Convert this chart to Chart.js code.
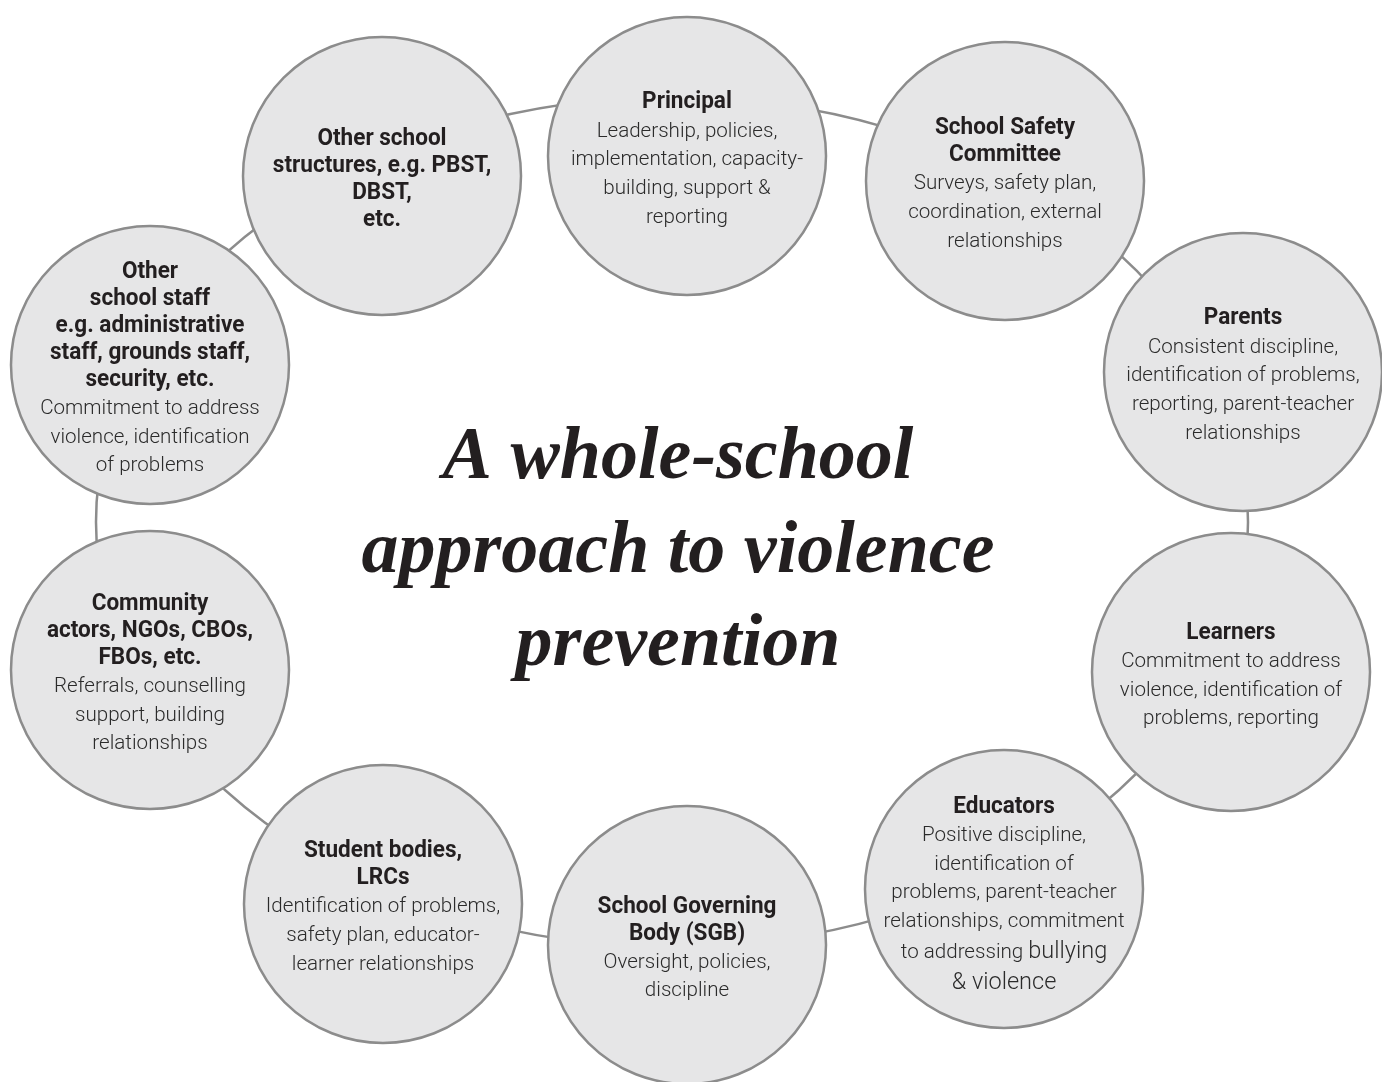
<!DOCTYPE html>
<html>
<head>
<meta charset="utf-8">
<title>A whole-school approach to violence prevention</title>
<script src="https://cdn.jsdelivr.net/npm/chart.js@4"></script>
<style>
  html, body { margin: 0; padding: 0; background: #ffffff; }
  canvas { display: block; }
</style>
</head>
<body>
<canvas id="chart" width="1382" height="1082"></canvas>
<script>
// actors in the ring, clockwise from the top
var nodeNames = [
  "Principal", "School Safety Committee", "Parents", "Learners", "Educators",
  "School Governing Body", "Student bodies", "Community", "Other school staff", "Other school structures"
];
var nodeX = [687, 1005, 1243, 1231, 1004, 687, 383, 150, 150, 382];
var nodeY = [156, 181, 372, 672, 889, 945, 904, 670, 365, 176];

var headings = [
  ["Principal"],
  ["School Safety", "Committee"],
  ["Parents"],
  ["Learners"],
  ["Educators"],
  ["School Governing", "Body (SGB)"],
  ["Student bodies,", "LRCs"],
  ["Community", "actors, NGOs, CBOs,", "FBOs, etc."],
  ["Other", "school staff", "e.g. administrative", "staff, grounds staff,", "security, etc."],
  ["Other school", "structures, e.g. PBST,", "DBST,", "etc."]
];

var details = [
  ["Leadership, policies,", "implementation, capacity-", "building, support &", "reporting"],
  ["Surveys, safety plan,", "coordination, external", "relationships"],
  ["Consistent discipline,", "identification of problems,", "reporting, parent-teacher", "relationships"],
  ["Commitment to address", "violence, identification of", "problems, reporting"],
  ["Positive discipline,", "identification of", "problems, parent-teacher", "relationships, commitment",
   [["to addressing ", 1], ["bullying", 1.14]], [["& violence", 1.14]]],
  ["Oversight, policies,", "discipline"],
  ["Identification of problems,", "safety plan, educator-", "learner relationships"],
  ["Referrals, counselling", "support, building", "relationships"],
  ["Commitment to address", "violence, identification", "of problems"],
  []
];

var titleLines = ["A whole-school", "approach to violence", "prevention"];

// the ellipse that links the circles
var ringCenter = { x: 672, y: 522 };
var ringRadius = { x: 576, y: 425 };

var points = [];
for (var i = 0; i < nodeX.length; i++) {
  points.push({ x: nodeX[i], y: nodeY[i] });
}

var condense = 0.98;

function drawSegments(ctx, segs, x, y, size, weight) {
  // measure full line first so it can be centred
  var total = 0;
  var widths = [];
  for (var k = 0; k < segs.length; k++) {
    ctx.font = weight + " " + Math.round(size * segs[k][1]) + "px Roboto";
    var w = ctx.measureText(segs[k][0]).width;
    widths.push(w);
    total += w;
  }
  ctx.save();
  ctx.translate(x, y);
  ctx.scale(condense, 1);
  ctx.textAlign = "left";
  var cx = -total / 2;
  for (var k = 0; k < segs.length; k++) {
    ctx.font = weight + " " + Math.round(size * segs[k][1]) + "px Roboto";
    ctx.fillText(segs[k][0], cx, 0);
    cx += widths[k];
  }
  ctx.restore();
}

var ringPlugin = {
  id: "ring",
  beforeDatasetsDraw: function (chart) {
    var ctx = chart.ctx;
    var xs = chart.scales.x, ys = chart.scales.y;
    var px = xs.getPixelForValue(ringCenter.x);
    var py = ys.getPixelForValue(ringCenter.y);
    var rx = Math.abs(xs.getPixelForValue(ringCenter.x + ringRadius.x) - px);
    var ry = Math.abs(ys.getPixelForValue(ringCenter.y + ringRadius.y) - py);
    ctx.save();
    ctx.beginPath();
    ctx.ellipse(px, py, rx, ry, 0, 0, Math.PI * 2);
    ctx.strokeStyle = "#8c8c8c";
    ctx.lineWidth = 2.5;
    ctx.stroke();
    ctx.restore();
  }
};

var labelPlugin = {
  id: "nodeLabels",
  afterDatasetsDraw: function (chart) {
    var ctx = chart.ctx;
    var meta = chart.getDatasetMeta(0);
    var headLH = 27, bodyLH = 28.7;
    ctx.save();
    ctx.textBaseline = "middle";
    meta.data.forEach(function (pt, idx) {
      var h = headings[idx], d = details[idx];
      var blockH = (h.length - 1) * headLH + (d.length ? bodyLH * d.length : 0);
      var y = pt.y - blockH / 2 + 4;
      ctx.fillStyle = "#231f20";
      h.forEach(function (line) {
        drawSegments(ctx, [[line, 1]], pt.x, y, 23, "bold");
        y += headLH;
      });
      y += bodyLH - headLH;
      ctx.fillStyle = "#2b2b2b";
      d.forEach(function (line) {
        var segs = typeof line === "string" ? [[line, 1]] : line;
        var extra = (typeof line !== "string") ? 2 : 0;
        drawSegments(ctx, segs, pt.x, y + extra, 21, "300");
        y += bodyLH + extra;
      });
    });

    // centre title
    var tx = chart.scales.x.getPixelForValue(678);
    var baselines = [478, 572, 665];
    ctx.textBaseline = "alphabetic";
    ctx.textAlign = "center";
    ctx.fillStyle = "#231f20";
    ctx.font = "bold italic 74px 'Liberation Serif'";
    titleLines.forEach(function (line, i) {
      ctx.fillText(line, tx, chart.scales.y.getPixelForValue(baselines[i]));
    });
    ctx.restore();
  }
};

new Chart(document.getElementById("chart"), {
  type: "bubble",
  data: {
    labels: nodeNames,
    datasets: [{
      label: "Actors",
      data: points,
      radius: 139,
      backgroundColor: "#e6e6e7",
      borderColor: "#8c8c8c",
      borderWidth: 2.5,
      hoverRadius: 0,
      clip: false
    }]
  },
  options: {
    responsive: false,
    animation: false,
    events: [],
    layout: { padding: 0, autoPadding: false },
    scales: {
      x: { type: "linear", min: 0, max: 1382, display: false },
      y: { type: "linear", min: 0, max: 1082, reverse: true, display: false }
    },
    plugins: {
      legend: { display: false },
      tooltip: { enabled: false }
    }
  },
  plugins: [ringPlugin, labelPlugin]
});
</script>
</body>
</html>
